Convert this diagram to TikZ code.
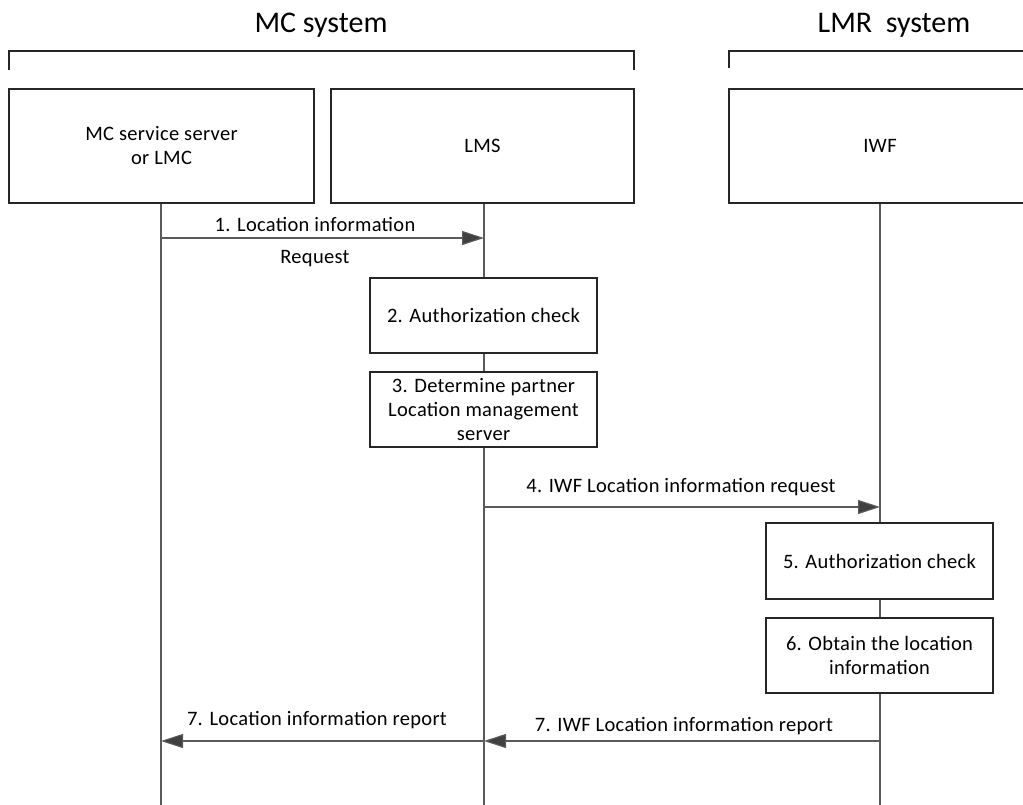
\documentclass[tikz,border=0pt]{standalone}
\usepackage{fontspec}
\setmainfont{Carlito}
\usetikzlibrary{arrows.meta}
\definecolor{lline}{HTML}{5A5A5A}
\definecolor{ahead}{HTML}{404040}
\newcommand{\txtfont}{\fontsize{20.5}{24}\selectfont\addfontfeature{LetterSpace=1.5}}
\tikzset{
  box/.style={draw=black!85, line width=1.1pt, fill=white, inner sep=2pt, align=center, font=\txtfont},
  life/.style={draw=lline, line width=1.2pt},
  msg/.style={draw=lline, line width=1.1pt, -{Triangle[length=22pt,width=14pt,fill=ahead]}},
  lbl/.style={font=\txtfont, inner sep=1pt},
  title/.style={font=\fontsize{30}{34}\selectfont},
  brk/.style={draw=black!85, line width=1.4pt}
}
\begin{document}
\begin{tikzpicture}[x=1pt,y=-1pt]
\useasboundingbox (0,0) rectangle (1023,805);
\clip (0,0) rectangle (1023,805);
% titles
\node[title] (mct) at (321,25) {MC system};
\node[title] (lmrt) at (894,25) {LMR\ \ system};
% brackets
\draw[brk] (9,70) -- (9,51) -- (634,51) -- (634,70);
\draw[brk] (729,68) -- (729,51) -- (1030,51);
% header boxes
\node[box, minimum width=305pt, minimum height=114pt] (mcs) at (161.5,146) {MC service server\\or LMC};
\node[box, minimum width=303pt, minimum height=114pt] (lms) at (482.5,146) {LMS};
\node[box, minimum width=302pt, minimum height=114pt] (iwf) at (880,146) {IWF};
% lifeline ends
\coordinate (mcsE) at (161,805);
\coordinate (lmsE) at (484,805);
\coordinate (iwfE) at (880,805);
\draw[life] (mcs.south -| mcsE) -- (mcsE);
\draw[life] (lms.south -| lmsE) -- (lmsE);
\draw[life] (iwf.south -| iwfE) -- (iwfE);
% step boxes
\node[box, minimum width=227pt, minimum height=75pt] (s2) at (483.5,315.5) {2. Authorization check};
\node[box, minimum width=227pt, minimum height=75pt] (s3) at (483.5,409.5) {3. Determine partner\\Location management\\server};
\node[box, minimum width=227pt, minimum height=76pt] (s5) at (879.5,561) {5. Authorization check};
\node[box, minimum width=227pt, minimum height=75pt] (s6) at (879.5,655.5) {6. Obtain the location\\information};
% message coordinates
\coordinate (m1a) at (161,238);
\coordinate (m1b) at (484,238);
\coordinate (m4a) at (484,507);
\coordinate (m4b) at (880,507);
\coordinate (m7a) at (880,741);
\coordinate (m7b) at (484,741);
\coordinate (m7c) at (161,741);
\draw[msg] (m1a) -- (m1b);
\draw[msg] (m4a) -- (m4b);
\draw[msg] (m7a) -- (m7b);
\draw[msg] (m7b) -- (m7c);
% labels
\node[lbl] (l1) at (315,224) {1. Location information};
\node[lbl] (l1b) at (315,259) {Request};
\node[lbl] (l4) at (681,487) {4. IWF Location information request};
\node[lbl] (l7a) at (317,720) {7. Location information report};
\node[lbl] (l7b) at (684,726) {7. IWF Location information report};
\end{tikzpicture}
\end{document}
